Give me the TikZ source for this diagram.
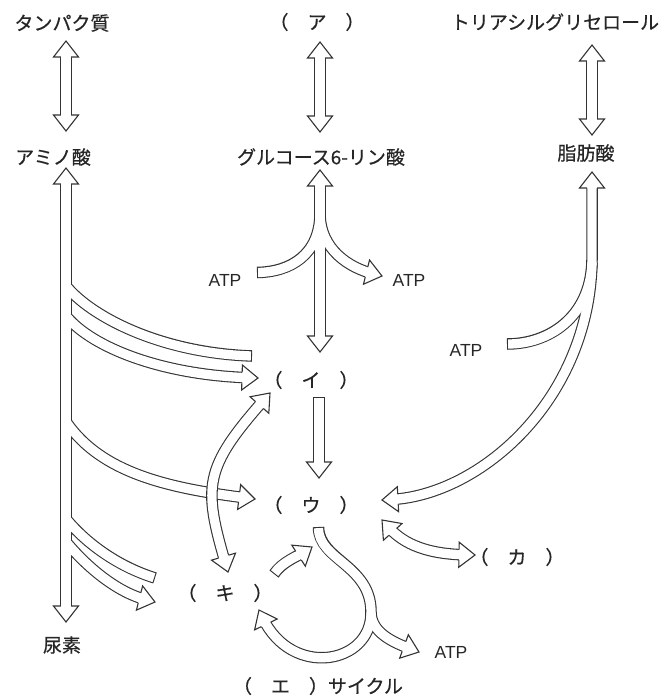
\documentclass[tikz,border=0pt]{standalone}
\usepackage{fontspec}
\setmainfont{Liberation Sans}
\newfontfamily\jp{Noto Sans CJK JP}[FakeBold=0.5]
\usetikzlibrary{calc}
\pgfdeclarelayer{lblack}
\pgfdeclarelayer{lwhite}
\pgfdeclarelayer{ltblack}
\pgfdeclarelayer{ltwhite}
\pgfsetlayers{lblack,lwhite,ltblack,ltwhite,main}
\colorlet{lc}{black!80}
\tikzset{
  blk/.style={line width=11.5pt, draw=lc, line cap=butt, line join=round},
  wht/.style={line width=9.3pt, draw=white, line cap=butt, line join=round},
  hline/.style={line width=1.1pt, draw=lc, line join=miter, line cap=butt},
  jt/.style={inner sep=0pt, font=\jp\fontsize{19}{19}\selectfont, text=black!85},
  atp/.style={inner sep=0pt, font=\fontsize{17.5}{17.5}\selectfont, text=black!85},
  bothends/.style={shorten <=9pt, shorten >=9pt},
  tipend/.style={shorten >=9pt},
  flatS/.style={shorten <=1.1pt},
  flatE/.style={shorten >=1.1pt},
}
% #1 options for both strokes, #2 extra options for the white stroke, #3 path
\newcommand\hollow[3]{%
  \begin{pgfonlayer}{lblack}\draw[blk,#1] #3;\end{pgfonlayer}
  \begin{pgfonlayer}{lwhite}\draw[wht,#1,#2] #3;\end{pgfonlayer}}
\newcommand\hollowtop[3]{%
  \begin{pgfonlayer}{ltblack}\draw[blk,#1] #3;\end{pgfonlayer}
  \begin{pgfonlayer}{ltwhite}\draw[wht,#1,#2] #3;\end{pgfonlayer}}
% open arrow head with its tip at #1, its axis pointing away from #2
\newcommand\headto[2]{%
  \coordinate (hB) at ($(#1)!16pt!(#2)$);
  \fill[white] ($(hB)!12.5pt!90:(#1)$) -- (#1) -- ($(hB)!12.5pt!-90:(#1)$) -- cycle;
  \draw[hline] ($(hB)!5.2pt!90:(#1)$) -- ($(hB)!12.5pt!90:(#1)$) -- (#1)
     -- ($(hB)!12.5pt!-90:(#1)$) -- ($(hB)!5.2pt!-90:(#1)$);}
\begin{document}
\begin{tikzpicture}[x=1pt,y=-1pt]
\useasboundingbox (0,0) rectangle (671,697);
% ---------- labels
\node[jt] (prot) at (62,23) {タンパク質};
\node[jt] (ana) at (317,22) {（　ア　）};
\node[jt] (tag) at (555,22) {トリアシルグリセロール};
\node[jt] (amino) at (53,157) {アミノ酸};
\node[jt] (g6p) at (321,157) {グルコース6-リン酸};
\node[jt] (fa) at (586,153) {脂肪酸};
\node[atp] (atpA) at (225,280) {ATP};
\node[atp] (atpB) at (409,280) {ATP};
\node[atp] (atpC) at (466,350) {ATP};
\node[jt] (ia) at (311,380) {（　イ　）};
\node[jt] (ua) at (311,505) {（　ウ　）};
\node[jt] (ka) at (517,557) {（　カ　）};
\node[jt] (ki) at (225,593) {（　キ　）};
\node[atp] (atpD) at (451,652) {ATP};
\node[jt] (cyc) at (318,686) {（　エ　）サイクル};
\node[jt] (urea) at (62,645) {尿素};
% ---------- arrow end points
\coordinate (a1s) at (66,41);   \coordinate (a1e) at (66,131);
\coordinate (a2s) at (320,42);  \coordinate (a2e) at (320,132);
\coordinate (a3s) at (592,45);  \coordinate (a3e) at (592,135);
\coordinate (Tt) at (66,168);   \coordinate (Tb) at (66,622);
\coordinate (Gt) at (320,170);  \coordinate (Gb) at (320,352);
\coordinate (Gj) at (320,213);  \coordinate (Go) at (382,276);
\coordinate (Ft) at (592,172);  \coordinate (Fv) at (592,260);
\coordinate (Fe) at (382,500);  \coordinate (Fj) at (592,262);
\coordinate (Is) at (319,397);  \coordinate (Ie) at (319,478);
\coordinate (b1e) at (252,356); \coordinate (b2e) at (258,378);
\coordinate (b3e) at (255,499); \coordinate (b4e) at (155,578);
\coordinate (b5e) at (155,602);
\coordinate (Cs) at (318.5,527); \coordinate (Cj) at (371,612);
\coordinate (Ce) at (259,610);  \coordinate (Ca) at (419,652);
\coordinate (Us) at (382,520);  \coordinate (Ue) at (475,555);
\coordinate (Ks) at (274,574);  \coordinate (Ke) at (312,547);
\coordinate (Ia) at (270,393);  \coordinate (Ib) at (228,572);
% ---------- hollow arrow bodies
\hollow{bothends}{}{(a1s) -- (a1e)}
\hollow{bothends}{}{(a2s) -- (a2e)}
\hollow{bothends}{}{(a3s) -- (a3e)}
% amino acid trunk and its branches
\hollow{bothends}{}{(Tt) -- (Tb)}
\hollow{}{flatE}{(67,287) .. controls (92.7,317.6) and (162,353) .. (b1e)}
\hollow{tipend}{}{(67,317) .. controls (92.7,347.6) and (162,375) .. (b2e)}
\hollow{tipend}{}{(67,423) .. controls (101.4,472.1) and (166,488) .. (b3e)}
\hollow{}{flatE}{(67,520) .. controls (86.3,543) and (117,566) .. (b4e)}
\hollow{tipend}{}{(67,543) .. controls (86.3,566) and (116,592) .. (b5e)}
% glucose
\hollow{bothends}{}{(Gt) -- (Gb)}
\hollow{}{flatS}{(257,272.5) .. controls (290,272) and (320,255) .. (Gj)}
\hollow{tipend}{}{(Gj) .. controls (320,250) and (350,268) .. (Go)}
% fatty acid
\hollow{bothends}{}{(Ft) -- (Fv) .. controls (590,400) and (480,495) .. (Fe)}
\hollow{}{flatS}{(507,344) .. controls (548,344) and (590,318) .. (Fj)}
% (i) -> (u)
\hollow{tipend}{flatS}{(Is) -- (Ie)}
% (u) <-> (ka)
\hollow{bothends}{}{(Us) .. controls (400,540) and (420,554) .. (Ue)}
% (ki) -> (u)
\hollow{tipend}{flatS}{(Ks) .. controls (282,562) and (298,556) .. (Ke)}
% cycle
\hollow{tipend}{flatS}{(Cs) .. controls (318.5,560) and (371,565) .. (Cj) .. controls (372,664) and (292,679) .. (Ce)}
\hollow{tipend}{}{(Cj) .. controls (371,632) and (392,642) .. (Ca)}
% (i) <-> (ki), drawn on top
\hollowtop{bothends}{}{(Ia) .. controls (204,468) and (202.8,485.6) .. (Ib)}
% ---------- arrow heads
\headto{a1s}{a1e} \headto{a1e}{a1s}
\headto{a2s}{a2e} \headto{a2e}{a2s}
\headto{a3s}{a3e} \headto{a3e}{a3s}
\headto{Tt}{Tb} \headto{Tb}{Tt}
\headto{b2e}{162,375}
\headto{b3e}{166,488}
\headto{b5e}{116,592}
\headto{Gt}{Gb} \headto{Gb}{Gt}
\headto{Go}{350,268}
\headto{Ft}{Fv} \headto{Fe}{480,495}
\headto{Ie}{Is}
\headto{Us}{400,540} \headto{Ue}{420,554}
\headto{Ke}{298,556}
\headto{Ce}{292,679}
\headto{Ca}{392,642}
\headto{Ia}{204,468} \headto{Ib}{202.8,485.6}
\end{tikzpicture}
\end{document}
